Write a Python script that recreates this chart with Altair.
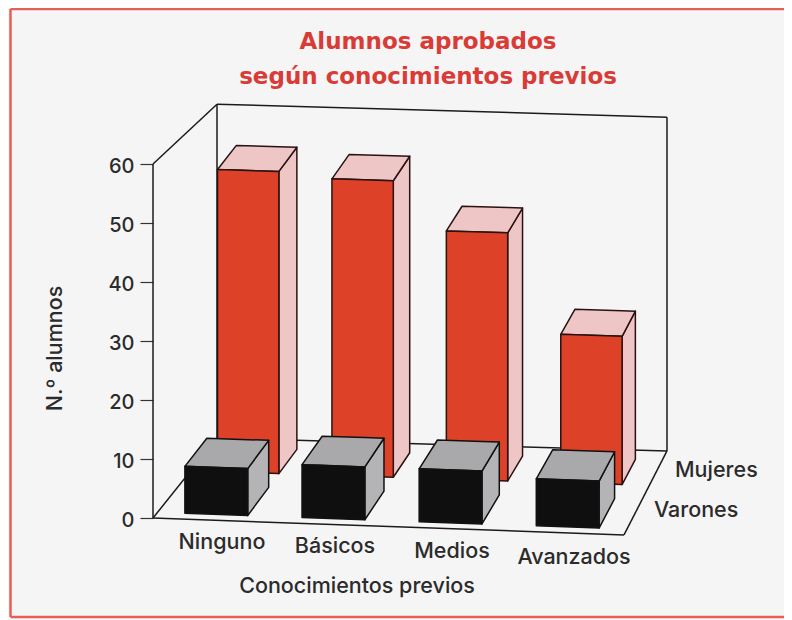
import altair as alt
import pandas as pd

# ---- values ----
categorias = ["Ninguno", "Básicos", "Medios", "Avanzados"]
mujeres = [53, 52, 43.5, 26]
varones = [8, 9, 9, 8]
ticks_y = [0, 10, 20, 30, 40, 50, 60]
series = ["Mujeres", "Varones"]
titulo = ["Alumnos aprobados", "según conocimientos previos"]

# ---- scene geometry (oblique view of a 3D chart, in scale units) ----
W, H = 776, 612
PX_PER_UNIT = 5.9
Y0 = 518.0
X0 = 153.0
LEFT_U, STEP_U, WIDTH_U = 27.5, 117.5, 63.0
FLOOR_U = 471.0
D_RED = (0.59, 0.89)
D_BLACK = (0.07, 0.42)
INK = "#1f1a1a"
FONT = "Inter"
TEXT = "#2b2b2b"
SIZE = 21.5


def v(py):
    return (Y0 - py) / PX_PER_UNIT


def project(u, d, h, d_scale=None):
    x = X0 + u + d * (64 - 0.0446 * u)
    floor = Y0 + 0.036 * u - d * (80 + 0.0085 * u)
    shrink = d if d_scale is None else d_scale
    return x, floor - h * PX_PER_UNIT * (1 - 0.057 * shrink)


def polygon(verts):
    xs = sorted({round(p[0], 3) for p in verts})
    rows = []
    n = len(verts)
    for x in xs:
        ys = []
        for i in range(n):
            (x1, y1), (x2, y2) = verts[i], verts[(i + 1) % n]
            lo, hi = min(x1, x2), max(x1, x2)
            if lo - 0.002 <= x <= hi + 0.002:
                if abs(x2 - x1) < 0.002:
                    ys += [y1, y2]
                else:
                    ys.append(y1 + (y2 - y1) * (x - x1) / (x2 - x1))
        rows.append({"x": x, "y": v(min(ys)), "bot": v(max(ys))})
    return pd.DataFrame(rows)


X_SCALE = alt.Scale(domain=[8, 8 + W], nice=False, zero=False)
Y_SCALE = alt.Scale(domain=[v(8 + H), v(8)], nice=False, zero=False)
X = alt.X("x:Q", scale=X_SCALE, axis=None)
Y_AXIS = alt.Axis(
    values=ticks_y, offset=-(X0 - 8), domain=False, grid=False, tickSize=13, tickColor="#333333",
    tickWidth=1.2, labelFont=FONT, labelFontSize=20, labelFontWeight=500, labelColor=TEXT, labelPadding=6,
    labelOffset=2, titleFont=FONT, titleFontSize=SIZE, titleFontWeight=500, titleColor=TEXT,
    titleX=-87, titleY=340, titleAngle=-90,
)
Y = alt.Y("y:Q", scale=Y_SCALE, title="N.º alumnos", axis=Y_AXIS)


def face(verts, fill, stroke=INK, sw=1.5):
    return (
        alt.Chart(polygon(verts))
        .mark_area(fill=fill, stroke=stroke, strokeWidth=sw, orient="vertical", strokeJoin="round")
        .encode(x=X, y=Y, y2="bot:Q")
    )


def box(i, depth, value, front, top, side, stroke=INK):
    ul, ur = LEFT_U + STEP_U * i, LEFT_U + STEP_U * i + WIDTH_U
    d1, d2 = depth

    def p(u, d, h):
        return project(u, d, h, d1)

    return [
        face([p(ur, d1, 0), p(ur, d2, 0), p(ur, d2, value), p(ur, d1, value)], side, stroke),
        face([p(ul, d1, value), p(ur, d1, value), p(ur, d2, value), p(ul, d2, value)], top, stroke),
        face([p(ul, d1, 0), p(ur, d1, 0), p(ur, d1, value), p(ul, d1, value)], front, stroke),
    ]


def segment(a, b):
    return {"x": a[0], "x2": b[0], "y": v(a[1]), "y2": v(b[1])}


# ---- walls and floor ----
fl, fr = project(0, 0, 0), project(FLOOR_U, 0, 0)
bl, br = project(0, 1, 0), project(FLOOR_U, 1, 0)
tl_f, tl_b, tr_b = project(0, 0, 60), project(0, 1, 60), project(FLOOR_U, 1, 60)
edges = pd.DataFrame([
    segment(fl, tl_f), segment(tl_f, tl_b), segment(tl_b, tr_b), segment(tr_b, br),
    segment(tl_b, bl), segment(bl, br), segment(fl, fr), segment(fl, bl), segment(fr, br),
])
walls = alt.Chart(edges).mark_rule(color=INK, strokeWidth=1.5).encode(x=X, x2="x2:Q", y=Y, y2="y2:Q")

# ---- bars ----
bars = []
for i in range(len(categorias)):
    bars += box(i, D_RED, mujeres[i], "#dd4127", "#eec6c6", "#eec6c6", "#2a1212")
for i in range(len(categorias)):
    bars += box(i, D_BLACK, varones[i], "#0f0f0f", "#a9a9ab", "#b4b4b6", "#111111")


# ---- category, series and axis labels ----
def labels(xs, pys, texts, align):
    frame_ = pd.DataFrame({"x": xs, "y": [v(p) for p in pys], "t": texts})
    return alt.Chart(frame_).mark_text(
        font=FONT, fontSize=SIZE, fontWeight=500, color=TEXT, align=align, baseline="alphabetic"
    ).encode(x=X, y=Y, text="t:N")


cats = labels([222, 335, 452, 574], [549, 553, 558, 564], categorias, "center")
sers = labels([675, 654], [477, 517], series, "left")
x_title = labels([357], [593], ["Conocimientos previos"], "center")

# ---- page frame ----
frame = alt.Chart(pd.DataFrame([
    segment((10.5, 9), (784, 9)),
    segment((10.5, 9), (10.5, 617)),
    segment((10.5, 617), (784, 617)),
])).mark_rule(color="#e35f58", strokeWidth=2.5).encode(x=X, x2="x2:Q", y=Y, y2="y2:Q")

chart = (
    alt.layer(walls, *bars, cats, sers, x_title, frame)
    .properties(
        width=W,
        height=H,
        padding=0,
        autosize=alt.AutoSizeParams(type="none"),
        background="#f6f5f5",
        title=alt.TitleParams(
            text=titulo, anchor="middle", font="DejaVu Sans", fontSize=23, fontWeight="bold", color="#d93b36",
            lineHeight=35, baseline="top", dx=32, dy=81, offset=0,
        ),
    )
    .configure_view(stroke=None)
)

chart.save("out.html", embed_options={"renderer": "svg", "actions": False})
